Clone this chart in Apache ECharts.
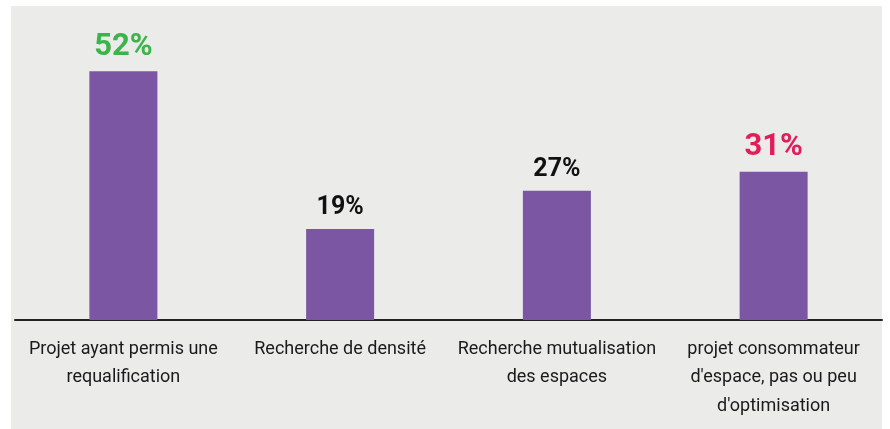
<!DOCTYPE html>
<html>
<head>
<meta charset="utf-8">
<script src="https://cdn.jsdelivr.net/npm/echarts@6/dist/echarts.min.js"></script>
<style>
  html, body { margin: 0; padding: 0; background: #ffffff; }
  #chart { width: 890px; height: 429px; }
</style>
</head>
<body>
<div id="chart"></div>
<script>
// categories (line breaks as in the original)
const categories = [
    'Projet ayant permis une\nrequalification',
    'Recherche de densité',
    'Recherche mutualisation\ndes espaces',
    "projet consommateur\nd'espace, pas ou peu\nd'optimisation"
];
const values = [52, 19, 27, 31];
// label colour per bar: highlighted ones green / pink
const labelColors = ['#3bb54a', '#111111', '#111111', '#e01f5a'];
const labelSizes = [31, 25, 25, 31];

const chart = echarts.init(document.getElementById('chart'));

let option = {
    backgroundColor: '#ffffff',
    animation: false,
    graphic: [{
        type: 'rect',
        z: -10,
        shape: { x: 11, y: 6, width: 871, height: 423 },
        style: { fill: '#ebebea' }
    }],
    grid: {
        left: 15,
        right: 8,
        top: 33,
        bottom: 109 // axis line at y=320
    },
    xAxis: {
        type: 'category',
        data: categories,
        axisLine: { show: true, lineStyle: { color: '#222222', width: 2 } },
        axisTick: { show: false },
        axisLabel: {
            interval: 0,
            margin: 15,
            color: '#1a1a1a',
            fontFamily: 'Roboto',
            fontWeight: 400,
            fontSize: 18,
            lineHeight: 28.5,
            align: 'center'
        }
    },
    yAxis: {
        type: 'value',
        min: 0,
        max: 60,
        show: false,
        splitLine: { show: false }
    },
    series: [{
        type: 'bar',
        barWidth: 68,
        itemStyle: { color: '#7a56a3' },
        label: {
            show: true,
            position: 'top',
            distance: 9,
            fontFamily: 'Roboto',
            fontWeight: 'bold',
            formatter: '{c}%'
        },
        data: values.map((v, i) => ({
            value: v,
            label: { color: labelColors[i], fontSize: labelSizes[i] }
        }))
    }]
};

chart.setOption(option);
</script>
</body>
</html>
